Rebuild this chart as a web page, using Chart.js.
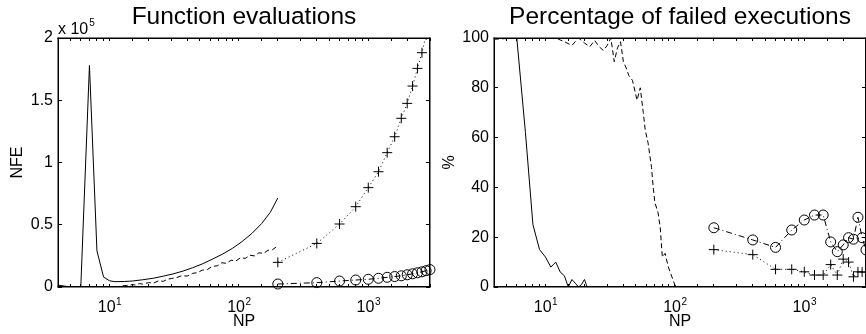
<!DOCTYPE html>
<html>
<head>
<meta charset="UTF-8">
<title>NFE and failed executions vs NP</title>
<script src="https://cdn.jsdelivr.net/npm/chart.js"></script>
<style>
  html, body { margin: 0; padding: 0; background: #fff; overflow: hidden; }
  body { width: 866px; height: 334px; position: relative; }
  canvas { position: absolute; top: 0; }
  #nfe { left: 0; }
  #fail { left: 436px; }
</style>
</head>
<body>
<canvas id="nfe" width="436" height="334"></canvas>
<canvas id="fail" width="436" height="334"></canvas>
<script>
// population sizes
const npSolid = [4, 5, 6, 7, 8, 9, 10, 11, 13, 15, 18, 22, 26, 31, 37, 44, 52, 62, 75, 89, 105, 126, 150, 175, 200];
const npDashed = [11, 12, 13, 14, 15, 16, 17, 18, 20, 22, 24, 26, 28, 30, 33, 36, 40, 44, 48, 52, 57, 62, 68, 74, 80, 87, 95, 103, 112, 122, 132, 143, 155, 168, 182, 200];
const npHigh = [200, 400, 600, 800, 1000, 1200, 1400, 1600, 1800, 2000, 2200, 2400, 2600, 2800, 3000];
const npFailSolid = [4, 5, 6, 7, 8, 9, 10, 11, 12, 13, 14, 15, 16, 17, 18, 19, 20, 21, 200];
const npFailDashed = [4, 6, 8, 10, 12, 14, 16, 18, 20, 22, 24, 26, 28, 30, 32, 34, 36, 38, 40, 42, 44, 47, 51, 54, 57, 59, 62, 66, 68, 70, 74, 77, 80, 84, 89, 95, 100, 103, 200];

// number of function evaluations
const nfeSolid = [1500, 0, 0, 178000, 29000, 8000, 5000, 4300, 4400, 4800, 5800, 7100, 8700, 10500, 12800, 15500, 18500, 22200, 26500, 31000, 36200, 43000, 51000, 60000, 71500];
const nfeDashed = [0, 500, 1200, 900, 2000, 1500, 2800, 2300, 3500, 3200, 5000, 4500, 6200, 6800, 7500, 9000, 8800, 11000, 11500, 13500, 14000, 16500, 17000, 19500, 19000, 21500, 21000, 23500, 23000, 25500, 25000, 27500, 27000, 29500, 30000, 33000];
const nfePlus = [19800, 35000, 50600, 64500, 79800, 92600, 107900, 120700, 135500, 147500, 161400, 175600, 188200, 202500, 216000];
const nfeCircle = [2400, 3500, 4800, 5600, 6200, 7000, 7800, 8400, 9000, 9800, 10600, 11400, 12200, 13100, 14000];

// percentage of failed executions
const failSolid = [100, 100, 100, 62, 25, 15, 12, 8, 10, 6, 4.5, 0, 3, 1.5, 0, 1, 3, 0, 0];
const failDashed = [99.5, 100, 100, 100, 100, 98.5, 97, 100, 98, 96.5, 99, 96.5, 95, 97, 100, 90.5, 96, 98.5, 90.5, 88, 85, 83, 75, 80, 70, 63, 58, 48, 40, 34, 30, 24, 12, 13.5, 8, 4, 0.8, 0, 0];
const failPlus = [15, 13, 7.1, 7.1, 6.1, 4.8, 4.8, 9, 4.8, 11.2, 10, 4.1, 6.1, 6, 6];
const failCircle = [23.8, 18.9, 15.9, 22.9, 26.9, 28.9, 28.9, 18.1, 14.2, 16.9, 19.8, 19.2, 28, 19.8, 14.9];

const decades = [1, 2, 3];
const FONT = "'Liberation Sans', Arial, Helvetica, sans-serif";

function series(xs, ys, dash, marker) {
  const ds = {
    data: xs.map((x, i) => ({ x: x, y: ys[i] })),
    borderColor: '#000',
    borderWidth: 1,
    borderDash: dash,
    backgroundColor: 'transparent',
    pointStyle: marker || 'circle',
    pointRadius: marker ? 5 : 0,
    pointBorderColor: '#000',
    pointBackgroundColor: 'transparent',
    pointBorderWidth: 1,
    fill: false,
    tension: 0
  };
  if (marker === 'circle') ds.clip = false;
  return ds;
}

// axes box, 10^k tick labels, title and exponent note
const axisText = {
  id: 'axisText',
  afterDraw(chart, args, opts) {
    const ctx = chart.ctx;
    const a = chart.chartArea;
    const x = chart.scales.x;
    ctx.save();
    ctx.fillStyle = '#000';
    const L = Math.round(a.left), R = Math.round(a.right);
    const T = Math.round(a.top), B = Math.round(a.bottom);
    ctx.fillRect(L - 0.5, T - 0.5, 1.5, B - T + 1);
    ctx.fillRect(R - 1, T - 0.5, 1.5, B - T + 1);
    ctx.fillRect(L - 0.5, T - 0.5, R - L + 1, 1.5);
    ctx.fillRect(L - 0.5, B - 1, R - L + 1, 1.5);

    ctx.textBaseline = 'alphabetic';
    ctx.textAlign = 'left';
    decades.forEach(k => {
      const px = x.getPixelForValue(Math.pow(10, k));
      ctx.font = '16px ' + FONT;
      const wb = ctx.measureText('10').width;
      ctx.font = '10px ' + FONT;
      const we = ctx.measureText(String(k)).width;
      const x0 = px - (wb + we) / 2;
      ctx.font = '16px ' + FONT;
      ctx.fillText('10', x0, a.bottom + 25);
      ctx.font = '10px ' + FONT;
      ctx.fillText(String(k), x0 + wb + 0.5, a.bottom + 17.5);
    });

    ctx.font = '24.5px ' + FONT;
    ctx.textAlign = 'center';
    ctx.fillText(opts.title, (a.left + a.right) / 2, 24);

    if (opts.exponent) {
      ctx.textAlign = 'left';
      ctx.font = '16px ' + FONT;
      ctx.fillText('x 10', a.left, 34);
      const w = ctx.measureText('x 10').width;
      ctx.font = '10px ' + FONT;
      ctx.fillText(opts.exponent, a.left + w + 1, 26);
    }
    ctx.restore();
  }
};

// inward tick marks drawn by the scales themselves
const frameGrid = len => ({ display: true, drawOnChartArea: false, drawTicks: true, tickLength: -len, color: '#000', tickColor: '#000', tickWidth: 1 });
const frameBorder = { display: false };

function makePanel(id, title, yLabel, yPad, yMax, yStep, fmt, exponent, datasets) {
  return new Chart(document.getElementById(id), {
    type: 'line',
    data: { datasets: datasets },
    plugins: [axisText],
    options: {
      responsive: false,
      animation: false,
      devicePixelRatio: 1,
      layout: { padding: { top: 38, right: 4, left: 0, bottom: 0 } },
      plugins: {
        legend: { display: false },
        tooltip: { enabled: false },
        axisText: { title: title, exponent: exponent }
      },
      scales: {
        x: {
          type: 'logarithmic',
          position: 'bottom',
          min: 4,
          max: 3000,
          grid: frameGrid(3),
          border: frameBorder,
          ticks: { display: false },
          title: {
            display: true, text: 'NP', color: '#000',
            font: { family: FONT, size: 16 },
            padding: { top: 0, bottom: 3 }
          },
          afterFit: s => { s.height = 47; }
        },
        xTop: {
          type: 'logarithmic',
          axis: 'x',
          position: 'top',
          min: 4,
          max: 3000,
          grid: frameGrid(3),
          border: frameBorder,
          ticks: { display: false },
          afterFit: s => { s.height = 0; }
        },
        y: {
          position: 'left',
          min: 0,
          max: yMax,
          grid: frameGrid(4),
          border: frameBorder,
          ticks: {
            stepSize: yStep, color: '#000', padding: 9,
            font: { family: FONT, size: 16 },
            callback: fmt
          },
          title: {
            display: true, text: yLabel, color: '#000',
            font: { family: FONT, size: 16 },
            padding: { top: yPad, bottom: 0 }
          },
          afterFit: s => { s.width = 58; }
        },
        yRight: {
          axis: 'y',
          position: 'right',
          min: 0,
          max: yMax,
          grid: frameGrid(4),
          border: frameBorder,
          ticks: { display: false, stepSize: yStep },
          afterFit: s => { s.width = 0; }
        }
      }
    }
  });
}

makePanel('nfe', 'Function evaluations', 'NFE', 8, 200000, 50000,
  v => v === 0 ? '0' : String(v / 1e5), '5', [
    series(npSolid, nfeSolid, []),
    series(npDashed, nfeDashed, [5, 3]),
    series(npHigh, nfePlus, [1, 3], 'cross'),
    series(npHigh, nfeCircle, [6, 3, 1, 3], 'circle')
  ]);

makePanel('fail', 'Percentage of failed executions', '%', 3.5, 100, 20,
  v => String(v), null, [
    series(npFailSolid, failSolid, []),
    series(npFailDashed, failDashed, [5, 3]),
    series(npHigh, failPlus, [1, 3], 'cross'),
    series(npHigh, failCircle, [6, 3, 1, 3], 'circle')
  ]);
</script>
</body>
</html>
